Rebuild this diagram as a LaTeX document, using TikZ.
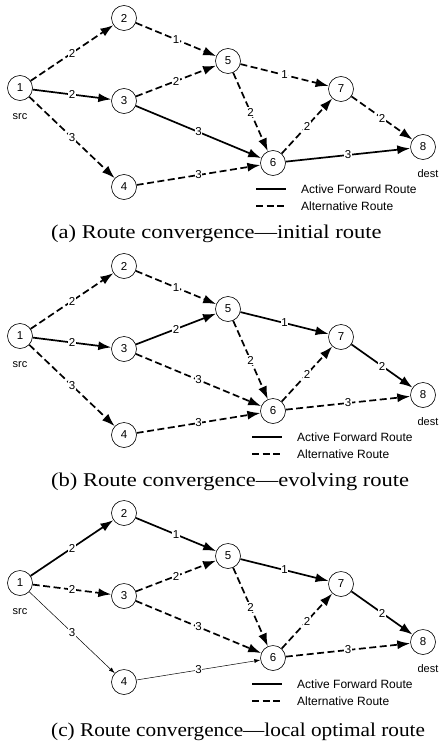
\documentclass[tikz,border=0pt]{standalone}
\usepackage{fontspec}
\setmainfont{Liberation Serif}
\setsansfont{Liberation Sans}
\usetikzlibrary{arrows.meta}
\newcommand\graphbody[4]{%
 \node[vtx] (#1n1) at (20,88) {1};
 \node[vtx] (#1n2) at (124,18) {2};
 \node[vtx] (#1n3) at (124,101) {3};
 \node[vtx] (#1n4) at (124,187) {4};
 \node[vtx] (#1n5) at (228,61) {5};
 \node[vtx] (#1n6) at (273,163) {6};
 \node[vtx] (#1n7) at (341,89) {7};
 \node[vtx] (#1n8) at (423,147) {8};
 \node[smalltext] (#1src) at (20,117) {src};
 \node[smalltext] (#1dest) at (428,174) {dest};
 \draw[e12] (#1n1) -- node[lbl]{2} (#1n2);
 \draw[e13] (#1n1) -- node[lbl]{2} (#1n3);
 \draw[e14] (#1n1) -- node[lbl]{3} (#1n4);
 \draw[e25] (#1n2) -- node[lbl]{1} (#1n5);
 \draw[e35] (#1n3) -- node[lbl]{2} (#1n5);
 \draw[e36] (#1n3) -- node[lbl]{3} (#1n6);
 \draw[e46] (#1n4) -- node[lbl]{3} (#1n6);
 \draw[e56] (#1n5) -- node[lbl]{2} (#1n6);
 \draw[e57] (#1n5) -- node[lbl]{1} (#1n7);
 \draw[e67] (#1n6) -- node[lbl]{2} (#1n7);
 \draw[e78] (#1n7) -- node[lbl]{2} (#1n8);
 \draw[e68] (#1n6) -- node[lbl]{3} (#1n8);
 \coordinate (#1la) at (256+#3,189);
 \coordinate (#1lb) at (286+#3,189);
 \coordinate (#1lc) at (256+#3,206);
 \coordinate (#1ld) at (286+#3,206);
 \draw[legsolid] (#1la) -- (#1lb);
 \draw[legdash] (#1lc) -- (#1ld);
 \node[legtext] (#1lt1) at (301+#3,189) {Active Forward Route};
 \node[legtext] (#1lt2) at (301+#3,206) {Alternative Route};
 \node[captext] (#1cap) at (51,#4) {#2};
}
\begin{document}
\begin{tikzpicture}[x=1pt,y=-1pt,
  vtx/.style={circle,draw,line width=0.6pt,minimum size=25pt,inner sep=0pt,fill=white,
    font=\sffamily\fontsize{11.5}{12}\selectfont},
  act/.style={line width=1.7pt,-{Latex[length=13pt,width=9pt]}},
  alt/.style={line width=1.7pt,dash pattern=on 7pt off 3.5pt,-{Latex[length=13pt,width=9pt]}},
  thn/.style={line width=0.5pt,-{Latex[length=6pt,width=4pt]}},
  lbl/.style={fill=white,inner sep=0.6pt,font=\sffamily\fontsize{11.5}{12}\selectfont},
  smalltext/.style={inner sep=0pt,font=\sffamily\fontsize{11}{12}\selectfont},
  legtext/.style={anchor=west,inner sep=0pt,font=\sffamily\fontsize{12}{13}\selectfont},
  legsolid/.style={line width=1.7pt},
  legdash/.style={line width=1.7pt,dash pattern=on 7pt off 3.5pt},
  captext/.style={anchor=west,inner sep=0pt,font=\fontsize{19.5}{21}\selectfont}
]
\useasboundingbox (0,0) rectangle (440,749);
\begin{scope}[e12/.style=alt,e13/.style=act,e14/.style=alt,e25/.style=alt,e35/.style=alt,
  e36/.style=act,e46/.style=alt,e56/.style=alt,e57/.style=alt,e67/.style=alt,e78/.style=alt,e68/.style=act]
\graphbody{a}{\scalebox{1.155}[1]{(a) Route convergence—initial route}}{0}{234}
\end{scope}
\begin{scope}[yshift=-248pt,e12/.style=alt,e13/.style=act,e14/.style=alt,e25/.style=alt,e35/.style=act,
  e36/.style=alt,e46/.style=alt,e56/.style=alt,e57/.style=act,e67/.style=alt,e78/.style=act,e68/.style=alt]
\graphbody{b}{\scalebox{1.155}[1]{(b) Route convergence—evolving route}}{-4}{234}
\end{scope}
\begin{scope}[yshift=-495pt,e12/.style=act,e13/.style=alt,e14/.style=thn,e25/.style=act,e35/.style=alt,
  e36/.style=alt,e46/.style=thn,e56/.style=alt,e57/.style=act,e67/.style=alt,e78/.style=act,e68/.style=alt]
\graphbody{c}{\scalebox{1.09}[1]{(c) Route convergence—local optimal route}}{-4}{237}
\end{scope}
\end{tikzpicture}
\end{document}
